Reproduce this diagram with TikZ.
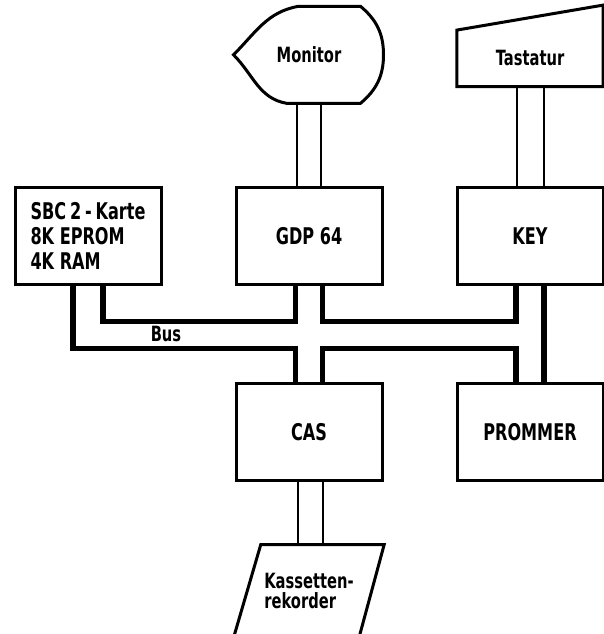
\documentclass[tikz,border=0pt]{standalone}
\usepackage{fontspec}
\newfontfamily\dinfont{DejaVu Sans}[FakeStretch=0.7]
\usetikzlibrary{positioning,calc}
\tikzset{
  unit/.style={draw,line width=3pt,minimum width=146pt,minimum height=97pt,%
    font=\dinfont\bfseries\fontsize{23}{25}\selectfont,inner sep=0pt,align=left},
  devname/.style={font=\dinfont\bfseries\fontsize{21}{20}\selectfont,inner sep=0pt,align=left},
  periph/.style={draw,line width=3pt},
  link/.style={line width=2pt},
  bus/.style={line width=5.5pt},
}

\begin{document}
\begin{tikzpicture}[x=1pt,y=1pt,node distance=96pt and 72pt]
\useasboundingbox (0,0) rectangle (604,-634);
\node[unit] (sbc) at (88,-236) {SBC\,2\,-\,Karte\\8K EPROM\\4K RAM};
\node[unit,right=of sbc] (gdp) {GDP 64};
\node[unit,right=of gdp] (key) {KEY};
\node[unit,below=of gdp] (cas) {CAS};
\node[unit,below=of key] (prom) {PROMMER};
\node[devname,above=82.5pt of gdp,minimum width=150pt,minimum height=97pt] (mon) {Monitor};
\node[devname,above=99.5pt of key,minimum width=146pt,minimum height=56pt] (tast) {Tastatur};
\node[devname,below=62.5pt of cas,minimum width=150pt,minimum height=92pt] (kass) {Kassetten-\\rekorder};
\draw[periph,shift={(mon.center)}] (-10.5,48.5) -- (51.5,48.5) to[out=-40,in=90] (74.5,0)
  to[out=-90,in=40] (51.5,-48.5) -- (-22.5,-48.5) to[out=170,in=-45] (-75.5,0)
  to[out=45,in=190] (-10.5,48.5) -- cycle;
\draw[periph] (tast.north west) -- ([yshift=25pt]tast.north east) -- (tast.south east) -- (tast.south west) -- cycle;
\draw[periph] ([xshift=27pt]kass.north west) -- (kass.north east) -- ([xshift=-25pt]kass.south east) -- (kass.south west) -- cycle;
\draw[link] ($(gdp.north)+(-12,0)$) -- ($(mon.south)+(-12,0)$);
\draw[link] ($(gdp.north)+(12,0)$) -- ($(mon.south)+(12,0)$);
\draw[link] ($(key.north)+(-13.5,0)$) -- ($(tast.south)+(-13.5,0)$);
\draw[link] ($(key.north)+(13.5,0)$) -- ($(tast.south)+(13.5,0)$);
\draw[link] ($(cas.south)+(-11,0)$) -- ($(kass.north)+(-11,0)$);
\draw[link] ($(cas.south)+(14,0)$) -- ($(kass.north)+(14,0)$);
\coordinate (bu) at (0,-321.5);
\coordinate (bl) at (0,-348.5);
\coordinate (sbcA) at ([xshift=-15pt]sbc.south);
\coordinate (sbcB) at ([xshift=15pt]sbc.south);
\coordinate (gdpA) at ([xshift=-13.5pt]gdp.south);
\coordinate (gdpB) at ([xshift=13.5pt]gdp.south);
\coordinate (casA) at ([xshift=-13.5pt]cas.north);
\coordinate (casB) at ([xshift=13.5pt]cas.north);
\coordinate (keyA) at ([xshift=-14pt]key.south);
\coordinate (keyB) at ([xshift=14pt]key.south);
\coordinate (promA) at ([xshift=-14pt]prom.north);
\coordinate (promB) at ([xshift=14pt]prom.north);
\draw[bus] (sbcA) |- (bl -| casA) -- (casA);
\draw[bus] (sbcB) |- (bu -| gdpA) -- (gdpA);
\draw[bus] (gdpB) |- (bu -| keyA) -- (keyA);
\draw[bus] (casB) |- (bl -| promA) -- (promA);
\draw[bus] (keyB) -- (promB);
\node[devname] (buslbl) at (166,-334) {Bus};
\end{tikzpicture}
\end{document}
